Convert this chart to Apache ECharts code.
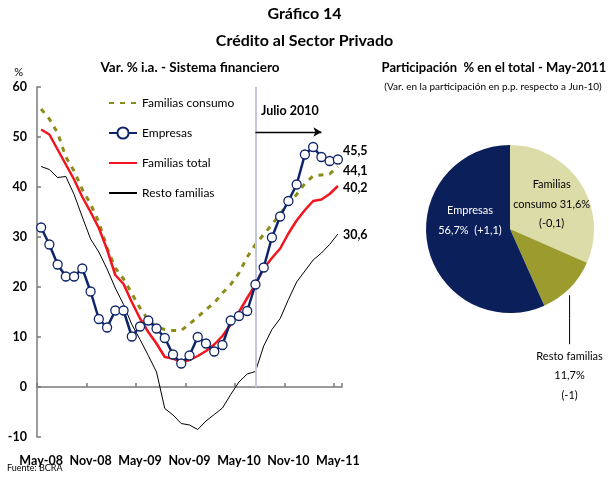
<!DOCTYPE html>
<html>
<head>
<meta charset="utf-8">
<script src="https://cdn.jsdelivr.net/npm/echarts@6/dist/echarts.min.js"></script>
<style>
  html, body { margin: 0; padding: 0; background: #fff; }
  #chart { width: 609px; height: 477px; }
</style>
</head>
<body>
<div id="chart"></div>
<script>
// ---- Data ----
const months = ['May-08','Jun-08','Jul-08','Ago-08','Sep-08','Oct-08','Nov-08','Dic-08','Ene-09','Feb-09','Mar-09','Abr-09',
                'May-09','Jun-09','Jul-09','Ago-09','Sep-09','Oct-09','Nov-09','Dic-09','Ene-10','Feb-10','Mar-10','Abr-10',
                'May-10','Jun-10','Jul-10','Ago-10','Sep-10','Oct-10','Nov-10','Dic-10','Ene-11','Feb-11','Mar-11','Abr-11',
                'May-11'];
const familiasConsumo = [55.6,53.6,50.8,46.0,43.2,39.5,36.6,33.0,27.8,23.8,21.6,18.7,15.8,13.4,12.0,11.5,11.3,11.3,12.6,14.0,
                         15.5,16.8,18.8,20.5,22.8,26.0,28.5,30.5,32.5,34.6,36.7,38.5,40.7,42.2,42.4,42.6,44.1];
const empresas = [31.9,28.5,24.5,22.1,22.1,23.7,19.1,13.6,11.9,15.3,15.3,10.1,12.1,13.3,11.7,9.8,6.5,4.7,6.3,10.0,
                  8.7,7.1,8.4,13.3,14.2,15.2,20.5,23.9,29.9,34.1,37.2,40.5,46.5,48.0,46.0,45.2,45.5];
const familiasTotal = [51.5,50.5,47.5,44.5,41.5,38.0,35.0,31.8,27.5,22.4,20.6,17.0,13.7,11.0,8.7,6.0,5.7,5.0,5.4,6.2,
                       7.2,8.5,10.2,12.5,15.0,17.8,20.5,23.7,25.8,27.7,30.7,33.3,35.4,37.2,37.5,38.6,40.2];
const restoFamilias = [44.1,43.5,41.9,42.1,38.5,34.0,29.6,27.0,23.6,19.8,16.5,12.5,9.5,6.3,3.0,-4.3,-5.6,-7.3,-7.6,-8.5,
                       -6.8,-5.5,-4.2,-1.5,1.0,2.6,3.1,8.2,11.5,13.7,17.5,21.0,23.2,25.4,26.8,28.5,30.6];
const yTicks = { min: -10, max: 60, interval: 10 };
const markMonth = 'Jul-10';
const arrowEndMonth = 'Mar-11';
const arrowLevel = 51;

const pieNames = ['Familias consumo', 'Resto familias', 'Empresas'];
const pieValues = [31.6, 11.7, 56.7];
const pieChanges = ['-0,1', '-1', '+1,1'];

// ---- Chart ----
const FONT = 'Lato, "Noto Sans", sans-serif';
const fmt = v => v.toFixed(1).replace('.', ',');
const chart = echarts.init(document.getElementById('chart'), null, { renderer: 'canvas' });

const PIE_CX = 510, PIE_CY = 229, PIE_R = 84;
const pieTotal = pieValues.reduce((a, b) => a + b, 0);

function pieMidAngle(idx) {
  let acc = 0;
  for (let i = 0; i < idx; i++) acc += pieValues[i];
  return (acc + pieValues[idx] / 2) / pieTotal * Math.PI * 2; // clockwise from 12 o'clock
}

const endLbl = (offset) => ({
  show: true,
  formatter: p => fmt(p.value),
  fontFamily: FONT, fontWeight: 'bold', fontSize: 12.5, color: '#000',
  distance: 5,
  offset: offset
});

const hiddenSymbol = { color: 'rgba(0,0,0,0)', borderColor: 'rgba(0,0,0,0)', borderWidth: 0, opacity: 0 };

const option = {
  animation: false,
  backgroundColor: '#fff',
  textStyle: { fontFamily: FONT },
  title: [
    { text: 'Gráfico 14', left: 'center', top: 6, padding: 0,
      textStyle: { fontFamily: FONT, fontSize: 16, fontWeight: 'bold', color: '#000' } },
    { text: 'Crédito al Sector Privado', left: 'center', top: 33, padding: 0,
      textStyle: { fontFamily: FONT, fontSize: 16, fontWeight: 'bold', color: '#000' } },
    { text: 'Var. % i.a. - Sistema financiero', left: 190, textAlign: 'center', top: 61, padding: 0,
      textStyle: { fontFamily: FONT, fontSize: 13.5, fontWeight: 'bold', color: '#000' } },
    { text: 'Participación  % en el total - May-2011', left: 494, textAlign: 'center', top: 61, padding: 0,
      textStyle: { fontFamily: FONT, fontSize: 13, fontWeight: 'bold', color: '#000' } },
    { text: '(Var. en la participación en p.p. respecto a Jun-10)', left: 493, textAlign: 'center', top: 82, padding: 0,
      textStyle: { fontFamily: FONT, fontSize: 10, fontWeight: 'normal', color: '#000' } },
    { text: 'Fuente: BCRA', left: 7, top: 464, padding: 0,
      textStyle: { fontFamily: FONT, fontSize: 9, fontWeight: 'normal', color: '#000' } }
  ],
  graphic: [
    { type: 'text', left: 261, top: 104,
      style: { text: 'Julio 2010', font: 'bold 12.5px ' + FONT, fill: '#000' } }
  ],
  legend: {
    data: [
      { name: 'Familias consumo', itemStyle: hiddenSymbol },
      { name: 'Empresas' },
      { name: 'Familias total', itemStyle: hiddenSymbol },
      { name: 'Resto familias', itemStyle: hiddenSymbol }
    ],
    orient: 'vertical', left: 108, top: 95, padding: 0,
    itemWidth: 28, itemHeight: 14, itemGap: 14,
    textStyle: { fontFamily: FONT, fontSize: 12, color: '#000', lineHeight: 16 }
  },
  grid: { left: 37, right: 267, top: 87, bottom: 40, containLabel: false, outerBoundsMode: 'none' },
  xAxis: {
    type: 'category', data: months, boundaryGap: true,
    axisLine: { show: true, onZero: true, lineStyle: { color: '#7a7a7a', width: 1.5 } },
    axisTick: { show: true, inside: true, interval: 5, length: 4, lineStyle: { color: '#7a7a7a', width: 1.5 } },
    axisLabel: { interval: 5, margin: 17, fontFamily: FONT, fontWeight: 'bold', fontSize: 12.5, color: '#000' },
    splitLine: { show: false }
  },
  yAxis: {
    type: 'value', min: yTicks.min, max: yTicks.max, interval: yTicks.interval,
    name: '%', nameLocation: 'end', nameGap: 9,
    nameTextStyle: { fontFamily: FONT, fontSize: 11, color: '#000', align: 'right', padding: [0, 14, 0, 0] },
    axisLine: { show: true, lineStyle: { color: '#7a7a7a', width: 1.5 } },
    axisTick: { show: true, inside: true, length: 4, lineStyle: { color: '#7a7a7a', width: 1.5 } },
    axisLabel: { margin: 10, fontFamily: FONT, fontWeight: 'bold', fontSize: 12.5, color: '#000' },
    splitLine: { show: false }
  },
  series: [
    {
      name: 'Familias consumo', type: 'line', data: familiasConsumo, z: 2,
      symbol: 'none', showSymbol: false,
      lineStyle: { color: '#8c8c18', width: 3, type: [5, 6] },
      itemStyle: { color: '#8c8c18' },
      endLabel: endLbl([0, 4])
    },
    {
      name: 'Empresas', type: 'line', data: empresas, z: 5,
      symbol: 'circle', symbolSize: 9, showSymbol: true, showAllSymbol: true,
      lineStyle: { color: '#0f2569', width: 2.5 },
      itemStyle: { color: '#fff', borderColor: '#0f2569', borderWidth: 1.3 },
      endLabel: endLbl([0, -9])
    },
    {
      name: 'Familias total', type: 'line', data: familiasTotal, z: 3,
      symbol: 'none', showSymbol: false,
      lineStyle: { color: '#f2141e', width: 2.5 },
      itemStyle: { color: '#f2141e' },
      endLabel: endLbl([0, 2])
    },
    {
      name: 'Resto familias', type: 'line', data: restoFamilias, z: 1,
      symbol: 'none', showSymbol: false,
      lineStyle: { color: '#000', width: 1 },
      itemStyle: { color: '#000' },
      endLabel: endLbl([0, 1]),
      markLine: {
        silent: true, animation: false,
        label: { show: false },
        data: [
          [
            { coord: [markMonth, yTicks.max], symbol: 'none', lineStyle: { color: '#c3c6dc', width: 2, type: 'solid' } },
            { coord: [markMonth, 0], symbol: 'none' }
          ],
          [
            { coord: [markMonth, arrowLevel], symbol: 'none', lineStyle: { color: '#000', width: 1.3, type: 'solid' } },
            { coord: [arrowEndMonth, arrowLevel], symbol: 'arrow', symbolSize: [7, 8] }
          ]
        ]
      }
    },
    {
      name: 'Participación', type: 'pie',
      center: [PIE_CX, PIE_CY], radius: PIE_R,
      startAngle: 90, clockwise: true,
      avoidLabelOverlap: false,
      silent: true,
      data: pieNames.map((n, i) => ({
        name: n, value: pieValues[i],
        itemStyle: { color: ['#dcdca8', '#9c9c2e', '#0b1f5a'][i] },
        label: i === 1
          ? { position: 'outside', color: '#000' }
          : { position: 'inside', color: i === 2 ? '#fff' : '#000' },
        labelLine: i === 1
          ? { show: true, length: 20, length2: 20, lineStyle: { color: '#000', width: 1 } }
          : { show: false }
      })),
      label: {
        fontFamily: FONT, fontSize: 11, lineHeight: 19.5, align: 'center',
        formatter: p => {
          const v = fmt(pieValues[p.dataIndex]) + '%';
          const c = '(' + pieChanges[p.dataIndex] + ')';
          if (p.dataIndex === 0) return 'Familias\nconsumo ' + v + '\n' + c;
          if (p.dataIndex === 1) return 'Resto familias\n' + v + '\n' + c;
          return 'Empresas\n' + v + '  ' + c;
        }
      },
      labelLayout: params => {
        const i = params.dataIndex;
        if (i === 1) {
          const a = pieMidAngle(1);
          const ex = PIE_CX + PIE_R * Math.sin(a);
          const ey = PIE_CY - PIE_R * Math.cos(a);
          return {
            x: ex, y: ey + 58, align: 'center', verticalAlign: 'top',
            labelLinePoints: [[ex, ey + 7], [ex, ey + 30], [ex, ey + 56]]
          };
        }
        if (i === 0) return { dx: 4, dy: 0 };
        return { dx: 4, dy: -18 };
      }
    }
  ]
};

chart.setOption(option);
</script>
</body>
</html>
